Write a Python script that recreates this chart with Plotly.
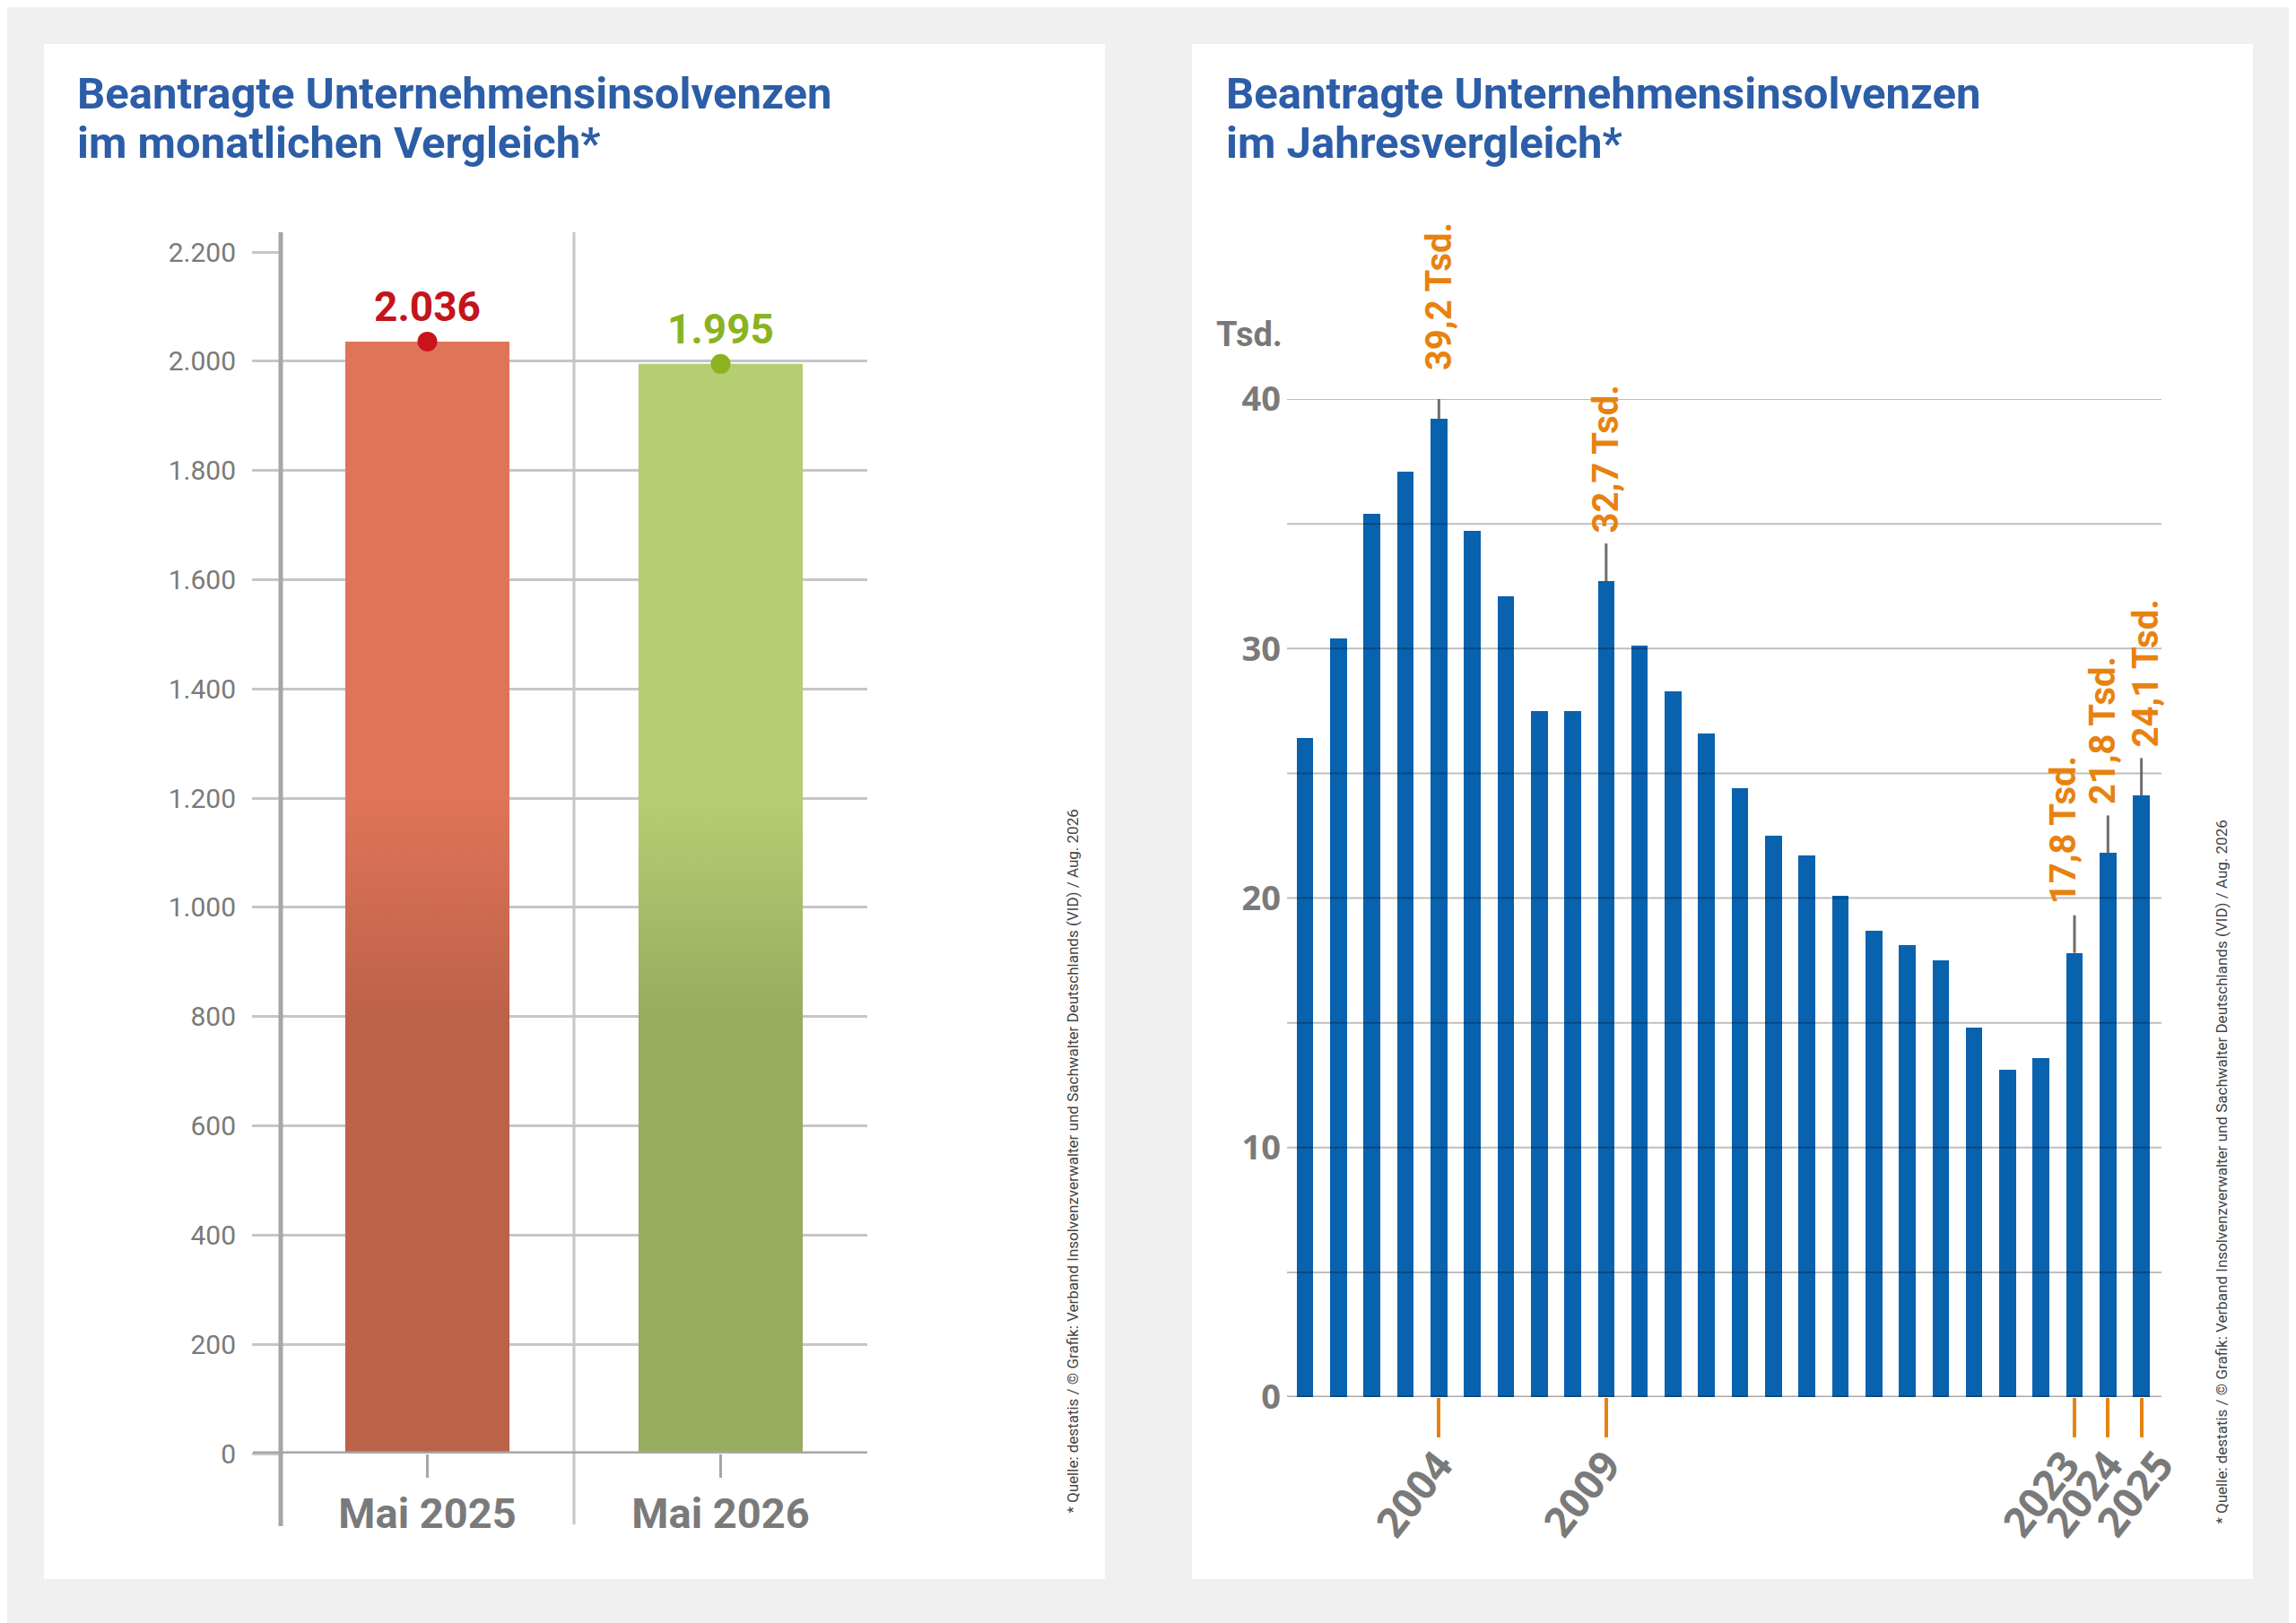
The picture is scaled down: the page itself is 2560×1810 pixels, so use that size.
import plotly.graph_objects as go

W, H = 2560, 1810
RAND = 8  # Body-Rand der Seite

# --- Monatsvergleich ---
monat_labels = ["Mai 2025", "Mai 2026"]
monat_werte = [2036, 1995]
monat_texte = ["2.036", "1.995"]
monat_ticks = [0, 200, 400, 600, 800, 1000, 1200, 1400, 1600, 1800, 2000, 2200]
monat_ticktext = ["0", "200", "400", "600", "800", "1.000", "1.200", "1.400",
                  "1.600", "1.800", "2.000", "2.200"]

# --- Jahresvergleich (Tsd.) ---
jahre = list(range(2000, 2026))
jahres_werte = [26.4, 30.4, 35.4, 37.1, 39.2, 34.7, 32.1, 27.5, 27.5, 32.7,
                30.1, 28.3, 26.6, 24.4, 22.5, 21.7, 20.1, 18.7, 18.1, 17.5,
                14.8, 13.1, 13.6, 17.8, 21.8, 24.1]
markierte_jahre = [2004, 2009, 2023, 2024, 2025]
jahres_gitter = [0, 5, 10, 15, 20, 25, 30, 35, 40]
jahres_ticks = [0, 10, 20, 30, 40]

BLAU_TITEL = "#2C5DA7"
GRAU = "#7A7A7A"
ORANGE = "#E8820F"
QUELLE = "* Quelle: destatis / © Grafik: Verband Insolvenzverwalter und Sachwalter Deutschlands (VID) / Aug. 2026"


def px_x(p):
    return (p - RAND) / W


def px_y(p):
    return 1 - (p - RAND) / H


fig = go.Figure()

# Balken links mit Verlauf (dunkel unten, hell oben)
bar_farben = [("#BC6249", "#DF7459"), ("#98AC5F", "#B6CD72")]
halb = 0.28
for i, (wert, (dunkel, hell)) in enumerate(zip(monat_werte, bar_farben)):
    fig.add_trace(go.Scatter(
        x=[i - halb, i + halb, i + halb, i - halb, i - halb],
        y=[0, 0, wert, wert, 0],
        mode="lines", fill="toself", line=dict(width=0),
        fillgradient=dict(type="vertical", start=0, stop=wert,
                          colorscale=[[0, dunkel], [800 / wert, dunkel],
                                      [1200 / wert, hell], [1, hell]]),
        hoverinfo="skip", showlegend=False, xaxis="x", yaxis="y"))

fig.add_trace(go.Scatter(
    x=[0, 1], y=monat_werte, mode="markers",
    marker=dict(size=22, color=["#C8151C", "#8BB31E"]),
    showlegend=False, xaxis="x", yaxis="y"))

# Balken rechts
fig.add_trace(go.Bar(
    x=jahre, y=jahres_werte, width=0.5,
    marker=dict(color="#0862AE", line=dict(width=0)),
    showlegend=False, xaxis="x2", yaxis="y2"))

shapes = [
    # Karten
    dict(type="rect", xref="paper", yref="paper", x0=px_x(49), x1=px_x(1232),
         y0=px_y(1761), y1=px_y(49), fillcolor="white", line_width=0, layer="below"),
    dict(type="rect", xref="paper", yref="paper", x0=px_x(1329), x1=px_x(2512),
         y0=px_y(1761), y1=px_y(49), fillcolor="white", line_width=0, layer="below"),
    # linke Achse + Mittellinie
    dict(type="line", xref="paper", yref="paper", x0=px_x(313), x1=px_x(313),
         y0=px_y(1702), y1=px_y(259), line=dict(color="#A6A6A6", width=5)),
    dict(type="line", xref="x", yref="paper", x0=0.5, x1=0.5,
         y0=px_y(1700), y1=px_y(259), line=dict(color="#C6C6C6", width=3), layer="below"),
    dict(type="line", xref="paper", yref="y", x0=px_x(282), x1=px_x(967),
         y0=0, y1=0, line=dict(color="#A6A6A6", width=5)),
]

for g in jahres_gitter:
    shapes.append(dict(type="line", xref="x2 domain", yref="y2", x0=0, x1=1, y0=g, y1=g,
                       line=dict(color="rgba(0,0,0,0.33)" if g == 0 else "rgba(0,0,0,0.25)",
                                 width=3 if g == 0 else 2), layer="above"))

annotations = [
    dict(text="Beantragte Unternehmensinsolvenzen", x=px_x(84), y=px_y(104)),
    dict(text="im monatlichen Vergleich*", x=px_x(84), y=px_y(159)),
    dict(text="Beantragte Unternehmensinsolvenzen", x=px_x(1365), y=px_y(104)),
    dict(text="im Jahresvergleich*", x=px_x(1365), y=px_y(159)),
]
for a in annotations:
    a.update(xref="paper", yref="paper", xanchor="left", yanchor="middle", showarrow=False,
             font=dict(family="Roboto", size=49, color=BLAU_TITEL, weight="bold"))

farben_werte = ["#C4141C", "#8AB320"]
for i, (wert, txt) in enumerate(zip(monat_werte, monat_texte)):
    annotations.append(dict(
        x=i, y=wert, xref="x", yref="y", text=txt, showarrow=False,
        yanchor="bottom", yshift=10,
        font=dict(family="Roboto", size=46, color=farben_werte[i], weight="bold")))

label_xshift = {2023: -13, 2024: -5, 2025: 5}
jahr_label_dx = {2004: 7, 2009: 7, 2023: -3, 2024: 8, 2025: 27}
for jahr in markierte_jahre:
    wert = jahres_werte[jahre.index(jahr)]
    shapes.append(dict(type="line", xref="x2", yref="y2", x0=jahr, x1=jahr,
                       ysizemode="pixel", yanchor=wert, y0=0, y1=42,
                       line=dict(color="#6E6E6E", width=3), layer="above"))
    annotations.append(dict(
        x=jahr, y=wert, xref="x2", yref="y2",
        text=f"{wert:.1f}".replace(".", ",") + " Tsd.",
        showarrow=False, textangle=-90, yanchor="bottom", xanchor="center",
        yshift=52, xshift=label_xshift.get(jahr, 0),
        font=dict(family="Roboto", size=40, color=ORANGE, weight="bold")))
    # Jahreszahl unter der Achse (schräg)
    annotations.append(dict(
        x=jahr, y=0, xref="x2", yref="y2", text=str(jahr),
        showarrow=False, textangle=-52, xanchor="right", yanchor="top",
        xshift=jahr_label_dx[jahr] + 24, yshift=-44,
        font=dict(family="Open Sans", size=46, color=GRAU, weight="bold")))

annotations.append(dict(
    text="Tsd.", x=px_x(1432), y=px_y(373), xref="paper", yref="paper",
    xanchor="right", yanchor="middle", showarrow=False,
    font=dict(family="Roboto", size=38, color="#787878", weight="bold")))

for xq, yq in [(1195, 1690), (2476, 1702)]:
    annotations.append(dict(
        text=QUELLE, x=px_x(xq), y=px_y(yq), xref="paper", yref="paper",
        xanchor="center", yanchor="bottom", textangle=-90, showarrow=False,
        font=dict(family="Roboto", size=17, color="#444444")))

fig.update_layout(
    width=W, height=H, autosize=False,
    margin=dict(l=0, r=0, t=0, b=0),
    paper_bgcolor="#F0F0F0", plot_bgcolor="rgba(0,0,0,0)",
    showlegend=False, bargap=0,
    shapes=shapes, annotations=annotations,
    xaxis=dict(
        domain=[px_x(313), px_x(967)], range=[-0.5, 1.5],
        tickvals=[0, 1], ticktext=monat_labels,
        ticks="outside", ticklen=26, tickwidth=3, tickcolor="#A6A6A6",
        showgrid=False, zeroline=False, showline=False,
        ticklabelstandoff=0,
        tickfont=dict(family="Roboto", size=47, color=GRAU, weight="bold"),
        fixedrange=True, automargin=False),
    yaxis=dict(
        domain=[px_y(1621), px_y(281)], range=[0, 2200],
        tickvals=monat_ticks, ticktext=monat_ticktext,
        ticks="outside", ticklen=31, tickwidth=3, tickcolor="#C6C6C6",
        showgrid=True, gridcolor="#C6C6C6", gridwidth=3,
        zeroline=False, showline=False, ticklabelstandoff=12,
        tickfont=dict(family="Roboto", size=30, color=GRAU),
        fixedrange=True, automargin=False),
    xaxis2=dict(
        domain=[px_x(1435), px_x(2410)], range=[1999.46, 2025.6],
        anchor="y2", tickvals=markierte_jahre, showticklabels=False,
        ticks="outside", ticklen=44, tickwidth=4, tickcolor=ORANGE,
        showgrid=False, zeroline=False, showline=False,
        fixedrange=True, automargin=False),
    yaxis2=dict(
        domain=[px_y(1558), px_y(445)], range=[0, 40], anchor="x2",
        tickvals=jahres_ticks, ticks="", showgrid=False, zeroline=False, showline=False,
        ticklabelstandoff=6,
        tickfont=dict(family="Open Sans", size=38, color=GRAU, weight="bold"),
        fixedrange=True, automargin=False),
)

fig.write_html("out.html")
